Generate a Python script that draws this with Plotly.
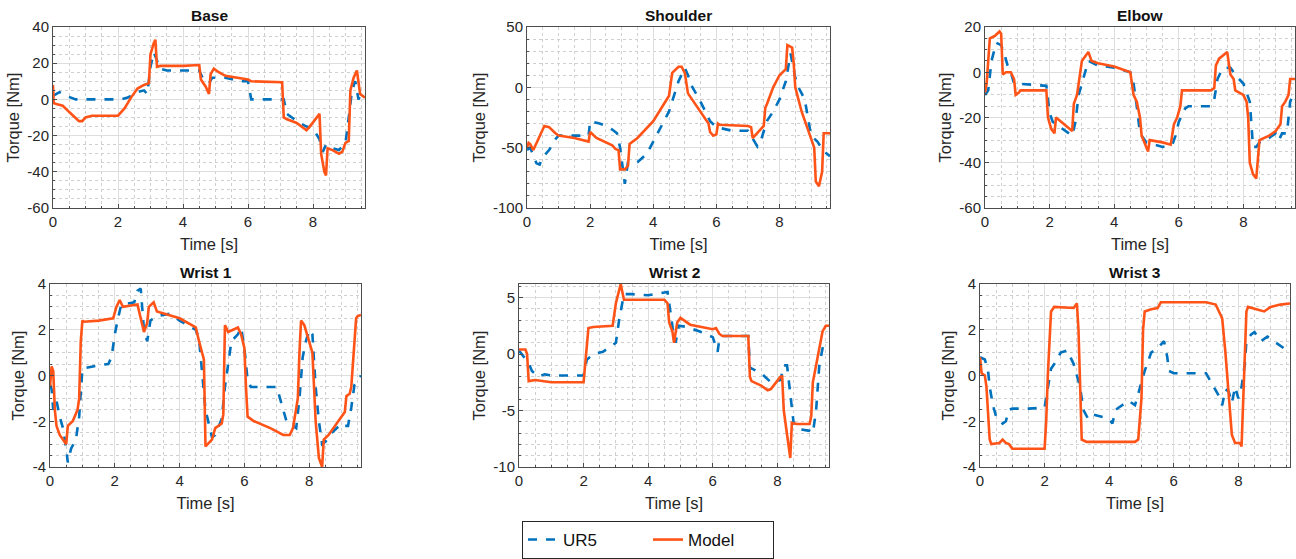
import plotly.graph_objects as go

# ---------------- data ----------------
titles = ["Base", "Shoulder", "Elbow", "Wrist 1", "Wrist 2", "Wrist 3"]
legend_names = ["UR5", "Model"]

base_t_model = [0, 0.02, 0.1, 0.3, 0.5, 0.8, 0.9, 1.0, 1.2, 2.0, 2.2, 2.4, 2.6, 2.8, 2.95, 3.0, 3.1, 3.15, 3.2, 3.3, 4.0, 4.5, 4.55, 4.7, 4.8, 4.85, 4.95, 5.1, 5.3, 6.0, 6.1, 7.0, 7.05, 7.1, 7.2, 7.5, 7.8, 7.9, 8.1, 8.2, 8.25, 8.35, 8.4, 8.45, 8.6, 8.8, 8.9, 9.0, 9.1, 9.15, 9.25, 9.35, 9.45, 9.6]
base_model = [8, -2, -2.5, -3.5, -7, -12, -12, -10, -9, -9, -5, 1, 6, 8, 9, 25, 31, 33, 18, 18.5, 18.5, 19, 11, 7, 3, 14, 17, 15, 13, 11, 10, 9.5, 9.5, -10, -11, -13, -17, -15, -10, -8, -30, -40, -42, -27, -28, -30, -29, -24, -23, 5, 12, 16, 3, 1]
base_t_ur5 = [0, 0.2, 0.4, 0.7, 2.1, 2.3, 2.6, 2.8, 2.9, 3.0, 3.1, 3.2, 3.3, 3.5, 4.5, 4.6, 4.8, 4.9, 5.3, 5.8, 6.0, 6.1, 7.1, 7.2, 7.5, 7.8, 8.0, 8.2, 8.3, 8.4, 8.6, 8.8, 9.0, 9.1, 9.2, 9.3, 9.4, 9.5, 9.6]
base_ur5 = [2, 4, 2, 0, 0, 1, 4, 5, 3, 18, 26, 21, 17, 16, 16, 12, 9, 12, 12, 10, 10, 0, 0, -8, -12, -15, -16, -22, -29, -25, -27, -28, -24, -10, 5, 10, 0, 4, 3]

shoulder_t_model = [0, 0.05, 0.1, 0.2, 0.55, 0.7, 0.9, 1.0, 1.5, 1.95, 2.0, 2.2, 2.7, 2.8, 2.9, 2.95, 3.1, 3.2, 3.25, 3.5, 4.0, 4.5, 4.6, 4.8, 4.9, 5.0, 5.1, 5.5, 5.75, 5.8, 5.9, 6.0, 6.05, 6.1, 7.0, 7.1, 7.15, 7.5, 7.55, 7.6, 7.8, 8.0, 8.2, 8.25, 8.4, 8.45, 8.5, 8.7, 8.9, 9.0, 9.1, 9.15, 9.25, 9.35, 9.4, 9.6]
shoulder_model = [-50, -46, -47, -52, -32, -33, -38, -40, -42, -45, -37, -42, -48, -51, -52, -68, -68, -65, -47, -42, -28, -7, 12, 17, 17, 12, -5, -20, -30, -37, -40, -39, -30, -31, -32, -33, -42, -32, -17, -14, 0, 10, 15, 35, 33, 20, 0, -20, -35, -42, -50, -78, -82, -70, -38, -38]
shoulder_t_ur5 = [0, 0.1, 0.3, 0.4, 0.5, 0.7, 0.9, 1.0, 1.5, 1.95, 2.0, 2.3, 2.5, 2.7, 2.85, 2.95, 3.1, 3.2, 3.5, 3.8, 4.0, 4.5, 4.8, 5.0, 5.1, 5.2, 5.5, 5.8, 6.0, 6.5, 7.0, 7.2, 7.3, 7.4, 7.6, 7.8, 8.0, 8.2, 8.35, 8.5, 8.6, 8.8, 9.0, 9.2, 9.4, 9.6]
shoulder_ur5 = [-52, -50, -63, -64, -58, -52, -43, -40, -40, -40, -28, -30, -32, -35, -38, -50, -80, -62, -62, -55, -45, -20, 5, 16, 10, 2, -12, -28, -33, -36, -36, -45, -49, -45, -28, -20, -10, 5, 28, 8, 0, -10, -40, -45, -53, -57]

elbow_t_model = [0, 0.05, 0.15, 0.3, 0.45, 0.5, 0.55, 0.65, 0.8, 0.9, 0.95, 1.05, 1.1, 1.9, 1.95, 2.05, 2.15, 2.2, 2.7, 2.75, 2.85, 2.95, 3.0, 3.2, 3.3, 3.5, 4.0, 4.5, 4.6, 4.7, 4.8, 4.85, 5.0, 5.05, 5.1, 5.5, 5.75, 5.85, 5.95, 6.05, 6.1, 7.0, 7.1, 7.15, 7.25, 7.4, 7.5, 7.55, 7.6, 7.7, 7.75, 8.0, 8.1, 8.15, 8.2, 8.3, 8.4, 8.5, 8.8, 9.0, 9.1, 9.15, 9.2, 9.3, 9.4, 9.45, 9.6]
elbow_model = [-9, -5, 15, 16, 18, 17, -1, 0, 0, -3, -10, -9, -8, -8, -20, -25, -27, -20, -26, -14, -10, 0, 5, 9, 5, 4, 2.5, 0, -10, -13, -20, -28, -33, -35, -30, -31, -32, -23, -20, -15, -8, -8, -7, 3, 6, 8, 9, 4, -1, -3, -8, -10, -13, -20, -40, -45, -47, -30, -28, -26, -24, -23, -15, -13, -10, -3, -3]
elbow_t_ur5 = [0, 0.1, 0.2, 0.35, 0.5, 0.6, 0.7, 0.8, 0.9, 1.0, 1.9, 2.0, 2.1, 2.3, 2.7, 2.8, 2.9, 3.1, 3.2, 3.5, 4.0, 4.5, 4.6, 4.7, 4.8, 5.0, 5.5, 5.8, 5.9, 6.0, 6.2, 6.3, 7.0, 7.1, 7.2, 7.3, 7.4, 7.6, 7.8, 8.0, 8.2, 8.3, 8.4, 8.5, 8.8, 9.0, 9.1, 9.2, 9.35, 9.45, 9.55, 9.6]
elbow_ur5 = [-10, -8, 5, 13, 12, 8, 3, 0, -5, -5, -6, -18, -22, -24, -28, -22, -10, 0, 5, 3, 2, 0, -5, -15, -27, -31, -33, -32, -28, -22, -16, -15, -15, -12, -3, 0, 2, 2, -2, -5, -13, -33, -33, -31, -29, -27, -30, -27, -27, -13, -10, -12]

wrist1_t_model = [0, 0.05, 0.1, 0.15, 0.2, 0.3, 0.5, 0.55, 0.7, 0.85, 0.9, 0.95, 1.0, 1.05, 1.5, 1.95, 2.05, 2.15, 2.25, 2.7, 2.8, 2.9, 3.0, 3.05, 3.2, 3.3, 4.0, 4.5, 4.6, 4.7, 4.75, 4.8, 5.0, 5.1, 5.3, 5.35, 5.4, 5.5, 5.7, 5.8, 5.9, 6.0, 6.05, 6.1, 6.3, 6.8, 7.2, 7.4, 7.5, 7.65, 7.7, 7.75, 7.85, 8.0, 8.1, 8.2, 8.3, 8.4, 8.45, 8.6, 8.8, 9.0, 9.1, 9.15, 9.25, 9.3, 9.4, 9.45, 9.5, 9.6]
wrist1_model = [-0.5, 0.4, 0.2, -1.5, -2.2, -2.6, -3.0, -2.2, -2.0, -1.5, -1.0, 1.5, 2.4, 2.35, 2.4, 2.5, 3.0, 3.3, 3.0, 3.1, 2.5, 1.9, 2.3, 3.0, 3.2, 2.8, 2.5, 2.1, 1.5, 1.0, 0.7, -3.1, -2.8, -2.3, -2.1, -1.7, 2.2, 1.9, 2.05, 2.1, 1.8, 1.2, -0.5, -1.8, -2.0, -2.3, -2.6, -2.6, -2.3, -1.0, 1.0, 2.4, 2.2, 1.5, 1.0, -2.0, -3.6, -4.0, -2.8, -2.6, -2.2, -1.8, -1.6, -0.9, -0.8, -0.5, 1.5, 2.5, 2.6, 2.65]
wrist1_t_ur5 = [0, 0.05, 0.1, 0.2, 0.3, 0.4, 0.5, 0.55, 0.65, 0.8, 0.9, 0.95, 1.0, 1.5, 1.8, 1.9, 2.0, 2.1, 2.2, 2.6, 2.7, 2.8, 2.9, 3.0, 3.1, 3.3, 3.7, 4.0, 4.5, 4.6, 4.8, 5.0, 5.1, 5.3, 5.4, 5.5, 5.6, 5.8, 5.9, 6.0, 6.1, 6.2, 7.0, 7.1, 7.3, 7.5, 7.6, 7.7, 7.8, 7.9, 8.0, 8.1, 8.2, 8.3, 8.4, 8.5, 8.7, 9.0, 9.1, 9.2, 9.3, 9.4, 9.6]
wrist1_ur5 = [-0.4, -0.6, -1.5, -1.1, -1.8, -2.3, -3.2, -3.8, -3.2, -2.8, -1.8, -0.5, 0.3, 0.45, 0.5, 0.8, 1.8, 2.5, 3.1, 3.2, 3.7, 3.8, 2.0, 1.5, 2.4, 2.6, 2.7, 2.4, 2.0, 1.6, -1.5, -2.7, -2.6, -1.9, -0.5, 0.5, 1.5, 1.8, 2.1, 1.2, -0.2, -0.5, -0.5, -1.0, -2.0, -2.2, -2.3, -1.0, 0.8, 1.5, 2.0, 1.8, -0.5, -2.0, -3.0, -2.9, -2.5, -2.1, -2.2, -2.2, -1.4, -0.4, 0.0]

wrist2_t_model = [0, 0.2, 0.25, 0.3, 0.5, 1.0, 2.0, 2.1, 2.15, 2.3, 2.9, 3.0, 3.1, 3.15, 3.25, 4.0, 4.5, 4.6, 4.65, 4.75, 4.8, 4.9, 5.0, 5.1, 5.3, 6.0, 6.1, 6.2, 6.3, 7.1, 7.15, 7.2, 7.5, 7.7, 7.8, 8.1, 8.15, 8.2, 8.35, 8.4, 8.45, 8.6, 9.0, 9.05, 9.1, 9.2, 9.3, 9.4, 9.5, 9.6]
wrist2_model = [0.4, 0.4, 0.0, -2.4, -2.3, -2.5, -2.5, 0.5, 2.3, 2.4, 2.5, 4.5, 5.5, 6.2, 4.8, 4.8, 4.8, 4.5, 2.8, 2.0, 1.0, 2.8, 3.2, 3.0, 2.6, 2.2, 2.3, 1.8, 1.6, 1.6, -2.0, -2.4, -2.8, -3.2, -3.1, -2.0, -2.0, -5.0, -8.5, -9.2, -6.1, -6.2, -6.2, -5.5, -2.5, -1.0, 0.5, 2.0, 2.5, 2.5]
wrist2_t_ur5 = [0, 0.3, 0.4, 0.6, 0.8, 1.0, 2.0, 2.1, 2.3, 2.6, 2.9, 3.0, 3.1, 3.25, 3.5, 4.0, 4.6, 4.7, 4.8, 4.85, 4.95, 5.2, 5.6, 6.0, 6.1, 6.15, 6.2, 6.3, 7.1, 7.15, 7.5, 7.8, 8.1, 8.2, 8.3, 8.4, 8.5, 8.6, 9.0, 9.1, 9.2, 9.3, 9.4, 9.6]
wrist2_ur5 = [0.3, -0.8, -1.5, -2.0, -1.8, -1.9, -1.9, -0.5, 0.0, 0.2, 0.8, 1.0, 3.0, 5.3, 5.3, 5.2, 5.5, 3.5, 1.5, 1.0, 2.5, 2.4, 2.0, 1.5, 0.5, 0.2, 1.2, 1.6, 1.6, -1.2, -1.7, -2.5, -2.3, -1.0, -1.0, -3.5, -6.0, -6.6, -6.8, -7.0, -5.0, -1.0, 0.5, 0.3]

wrist3_t_model = [0, 0.05, 0.15, 0.2, 0.3, 0.35, 0.6, 0.7, 0.8, 0.9, 1.0, 1.5, 2.0, 2.05, 2.1, 2.2, 2.3, 2.9, 3.0, 3.05, 3.1, 3.15, 3.3, 4.0, 4.8, 4.9, 5.0, 5.05, 5.1, 5.3, 5.5, 5.6, 6.0, 7.0, 7.3, 7.5, 7.6, 7.7, 7.8, 7.9, 8.05, 8.1, 8.15, 8.2, 8.25, 8.3, 8.6, 8.8, 9.0, 9.3, 9.6]
wrist3_model = [0.8, 0.1, 0.0, -0.5, -2.8, -3.0, -2.95, -2.8, -2.95, -3.0, -3.2, -3.2, -3.2, -2.0, 0.0, 2.8, 3.0, 2.95, 3.15, 2.0, -1.0, -2.8, -2.9, -2.9, -2.9, -2.8, -1.0, 2.0, 2.8, 2.9, 2.95, 3.2, 3.2, 3.2, 3.1, 2.5, 1.0, -1.0, -2.6, -2.95, -2.95, -3.1, -1.0, 1.0, 2.8, 3.0, 2.9, 2.8, 3.0, 3.1, 3.15]
wrist3_t_ur5 = [0, 0.15, 0.25, 0.3, 0.4, 0.5, 0.6, 0.7, 0.8, 0.9, 1.0, 1.5, 2.0, 2.1, 2.2, 2.3, 2.5, 2.7, 2.8, 2.9, 3.0, 3.1, 3.2, 3.35, 3.5, 3.8, 4.0, 4.1, 4.2, 4.4, 4.6, 4.8, 4.9, 5.0, 5.1, 5.3, 5.5, 5.7, 5.8, 5.85, 6.0, 6.5, 7.0, 7.2, 7.4, 7.5, 7.6, 7.7, 7.8, 7.9, 8.0, 8.1, 8.2, 8.25, 8.4, 8.5, 8.7, 8.9, 9.1, 9.3, 9.5]
wrist3_ur5 = [0.8, 0.7, 0.2, -0.5, -1.3, -1.8, -2.0, -2.1, -2.0, -1.5, -1.45, -1.45, -1.4, -0.6, 0.3, 0.5, 1.0, 1.1, 0.8, 0.5, 0.0, -0.5, -1.5, -1.9, -1.7, -1.8, -1.9, -2.1, -1.5, -1.3, -1.1, -1.3, -0.8, -0.3, 0.2, 1.0, 1.2, 1.5, 0.8, 0.2, 0.1, 0.1, 0.1, -0.4, -0.9, -1.3, -0.6, -0.7, -1.2, -0.5, -1.0, -0.5, 0.5, 1.5, 1.8, 1.9, 1.5, 1.7, 1.5, 1.3, 1.1]

# axis settings / tick labels
x_range = [0, 9.6]
x_ticks = [0, 2, 4, 6, 8]
y_ranges = [[-60, 40], [-100, 50], [-60, 20], [-4, 4], [-10, 6.2], [-4, 4]]
y_ticks = [
    [-60, -40, -20, 0, 20, 40],
    [-100, -50, 0, 50],
    [-60, -40, -20, 0, 20],
    [-4, -2, 0, 2, 4],
    [-10, -5, 0, 5],
    [-4, -2, 0, 2, 4],
]
y_minor = [5, 10, 5, 0.5, 1, 0.5]

series = [
    (base_t_ur5, base_ur5, base_t_model, base_model),
    (shoulder_t_ur5, shoulder_ur5, shoulder_t_model, shoulder_model),
    (elbow_t_ur5, elbow_ur5, elbow_t_model, elbow_model),
    (wrist1_t_ur5, wrist1_ur5, wrist1_t_model, wrist1_model),
    (wrist2_t_ur5, wrist2_ur5, wrist2_t_model, wrist2_model),
    (wrist3_t_ur5, wrist3_ur5, wrist3_t_model, wrist3_model),
]

# ---------------- layout ----------------
W, H = 1296, 559
boxes = [  # left, right, top, bottom in px
    (53, 365, 27, 208), (527, 830, 27, 208), (985, 1295, 27, 208),
    (50, 361, 284, 467), (519, 829, 284, 467), (980, 1290, 284, 467),
]
BLUE = "#0072BD"
ORANGE = "#FF5317"
FONT = "Liberation Sans, Arial, sans-serif"

fig = go.Figure()
layout = dict(
    width=W, height=H, margin=dict(l=0, r=0, t=0, b=0, autoexpand=False),
    paper_bgcolor="white", plot_bgcolor="white",
    font=dict(family=FONT, size=15, color="#262626"),
    showlegend=True,
    legend=dict(orientation="h", x=0.5, xanchor="center", y=0, yanchor="bottom",
                bordercolor="#262626", borderwidth=1, font=dict(size=17, color="#111"),
                entrywidth=80, tracegroupgap=0, bgcolor="white"),
    annotations=[],
)

for i, (tu, yu, tm, ym) in enumerate(series):
    k = i + 1
    xa = "x" if k == 1 else f"x{k}"
    ya = "y" if k == 1 else f"y{k}"
    fig.add_trace(go.Scatter(x=tu, y=yu, mode="lines", xaxis=xa, yaxis=ya,
                             name=legend_names[0], showlegend=(k == 1),
                             line=dict(color=BLUE, width=2.6, dash="dash")))
    fig.add_trace(go.Scatter(x=tm, y=ym, mode="lines", xaxis=xa, yaxis=ya,
                             name=legend_names[1], showlegend=(k == 1),
                             line=dict(color=ORANGE, width=2.6)))
    l, r, t, b = boxes[i]
    common = dict(showline=True, mirror=True, linecolor="#4d4d4d", linewidth=1,
                  ticks="inside", ticklen=4, tickcolor="#4d4d4d", automargin=False,
                  showgrid=True, gridcolor="#dedede", gridwidth=1, zeroline=False,
                  tickfont=dict(size=15, color="#262626"), tickmode="array")
    minor = dict(showgrid=True, gridcolor="#cfcfcf", griddash="dot", gridwidth=1,
                 ticks="inside", ticklen=2, tickcolor="#4d4d4d")
    layout["xaxis" if k == 1 else f"xaxis{k}"] = dict(
        common, domain=[l / W, r / W], anchor=ya, range=x_range,
        tickvals=x_ticks, ticktext=[str(v) for v in x_ticks],
        minor=dict(minor, dtick=0.5, tick0=0, tickmode="linear"),
        title=dict(text="Time [s]", font=dict(size=16.5), standoff=9))
    layout["yaxis" if k == 1 else f"yaxis{k}"] = dict(
        common, domain=[1 - b / H, 1 - t / H], anchor=xa, range=y_ranges[i],
        tickvals=y_ticks[i], ticktext=[str(v) for v in y_ticks[i]],
        minor=dict(minor, dtick=y_minor[i], tick0=0, tickmode="linear"),
        title=dict(text="Torque [Nm]", font=dict(size=16.5), standoff=3))
    layout["annotations"].append(dict(
        text=f"<b>{titles[i]}</b>", x=(l + r) / 2 / W, y=1 - (t - 1.5) / H,
        xref="paper", yref="paper", xanchor="center", yanchor="bottom",
        showarrow=False, font=dict(size=15.5, color="#111")))

fig.update_layout(**layout)
fig.write_html("out.html")
